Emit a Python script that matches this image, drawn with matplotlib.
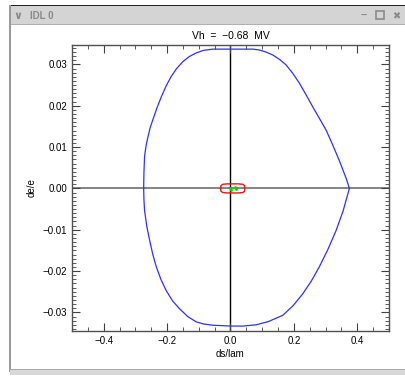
import matplotlib
matplotlib.use("Agg")
import matplotlib.pyplot as plt
from matplotlib.patches import Rectangle

# separatrix, upper and lower halves (ds/lam, de/e)
upper_x = [-0.274, -0.273, -0.271, -0.266, -0.260, -0.253, -0.245, -0.232, -0.218,
           -0.203, -0.187, -0.170, -0.150, -0.130, -0.108, -0.085, -0.056,
           0.002, 0.070, 0.091, 0.112, 0.133, 0.155, 0.175, 0.196, 0.217, 0.238,
           0.259, 0.280, 0.301, 0.318, 0.333, 0.345, 0.354, 0.365, 0.375]
upper_y = [0.0, 0.0040, 0.0078, 0.0105, 0.0126, 0.0148, 0.0166, 0.0195, 0.0222,
           0.0248, 0.0271, 0.0290, 0.0307, 0.0319, 0.0328, 0.0334, 0.0337,
           0.0337, 0.0337, 0.0335, 0.0330, 0.0323, 0.0312, 0.0299, 0.0279, 0.0255, 0.0227,
           0.0198, 0.0170, 0.0142, 0.0113, 0.0086, 0.0064, 0.0046, 0.0024, 0.0]
lower_x = [-0.274, -0.273, -0.271, -0.264, -0.255, -0.245, -0.234, -0.219, -0.203,
           -0.183, -0.161, -0.135, -0.108, -0.085, -0.056,
           0.002, 0.040, 0.081, 0.120, 0.165, 0.197, 0.228, 0.255, 0.280, 0.307,
           0.333, 0.355, 0.375]
lower_y = [0.0, -0.0028, -0.0054, -0.0092, -0.0126, -0.0160, -0.0190, -0.0221, -0.0247,
           -0.0272, -0.0291, -0.0310, -0.0323, -0.0328, -0.0331,
           -0.0333, -0.0333, -0.0330, -0.0322, -0.0307, -0.0284, -0.0255, -0.0224, -0.0190, -0.0148,
           -0.0102, -0.0055, 0.0]

# small bucket (red) and particles (green)
bucket_x = [-0.0315, -0.030, -0.024, -0.010, 0.005, 0.025, 0.039, 0.044, 0.045,
            0.044, 0.039, 0.025, 0.005, -0.010, -0.024, -0.030, -0.0315]
bucket_y = [0.0, 0.0007, 0.0010, 0.0011, 0.0011, 0.0011, 0.0010, 0.0007, 0.0,
            -0.0007, -0.0010, -0.0011, -0.0011, -0.0011, -0.0010, -0.0007, 0.0]
part_x = [-0.001, 0.001, 0.003, 0.014, 0.016, 0.018]
part_y = [0.0002, -0.0003, 0.0001, 0.0003, -0.0002, 0.0001]

xticks = [-0.4, -0.2, 0.0, 0.2, 0.4]
yticks = [-0.03, -0.02, -0.01, 0.0, 0.01, 0.02, 0.03]

plt.rcParams["font.family"] = ["Liberation Sans", "DejaVu Sans"]

W, H = 406, 377
fig = plt.figure(figsize=(W / 100, H / 100), dpi=100)
fig.patch.set_facecolor("white")

# window chrome
def px(x0, y0, w, h, **kw):
    fig.add_artist(Rectangle((x0 / W, 1 - (y0 + h) / H), w / W, h / H,
                             transform=fig.transFigure, **kw))

px(10, 5, 396, 20, facecolor="#d4d4d4", edgecolor="none")
px(10, 5, 396, 1.2, facecolor="#222222", edgecolor="none")
px(10, 24, 396, 1, facecolor="#b0b0b0", edgecolor="none")
px(9, 5, 2, 367, facecolor="#9a9a9a", edgecolor="none")
px(10, 370, 396, 5, facecolor="#d8d8d8", edgecolor="none")
px(10, 369, 396, 1, facecolor="#a8a8a8", edgecolor="none")
fig.text(30 / W, 1 - 16 / H, "IDL 0", fontsize=7, color="#8a8a8a",
         ha="left", va="center", fontweight="bold")
fig.text(18 / W, 1 - 16 / H, "\u2228", fontsize=8, color="#8a8a8a",
         ha="center", va="center", fontweight="bold")
fig.text(364 / W, 1 - 16 / H, "\u2013", fontsize=8, color="#8a8a8a",
         ha="center", va="center", fontweight="bold")
px(376, 11, 8, 8, facecolor="none", edgecolor="#8a8a8a", linewidth=1.2)
fig.text(396 / W, 1 - 16 / H, "\u2716", fontsize=7, color="#8a8a8a",
         ha="center", va="center", family=["DejaVu Sans"])

ax = fig.add_axes([72 / W, 1 - 331 / H, 317 / W, 286 / H])
ax.plot(upper_x, upper_y, color="#3030ff", linewidth=0.9)
ax.plot(lower_x, lower_y, color="#3030ff", linewidth=0.9)
ax.axhline(0, color="#707070", linewidth=1.2, zorder=1)
ax.axvline(0, color="black", linewidth=1.0, zorder=1)
ax.plot(bucket_x, bucket_y, color="#ee1111", linewidth=1.0)
ax.plot(part_x, part_y, ".", color="#00dd00", markersize=2)

ax.set_xlim(-0.5, 0.5)
ax.set_ylim(-0.0345, 0.0347)
ax.set_xticks(xticks)
ax.set_xticklabels(["\u22120.4", "\u22120.2", "0.0", "0.2", "0.4"])
ax.set_yticks(yticks)
ax.set_yticklabels(["\u22120.03", "\u22120.02", "\u22120.01", "0.00", "0.01", "0.02", "0.03"])
ax.set_xticks([i * 0.05 - 0.5 for i in range(21)], minor=True)
ax.set_yticks([i * 0.001 - 0.034 for i in range(69)], minor=True)
ax.tick_params(which="both", direction="in", top=True, right=True, labelsize=7,
               color="#404040")
ax.tick_params(which="major", length=6, width=0.8)
ax.tick_params(which="minor", length=3, width=0.6)
for s in ax.spines.values():
    s.set_color("#505050")
    s.set_linewidth(1.0)

ax.set_title("Vh  =  \u22120.68  MV", fontsize=7.5, pad=4)
ax.set_xlabel("ds/lam", fontsize=7, labelpad=2)
ax.set_ylabel("de/e", fontsize=7, labelpad=4)

fig.savefig("out.png", dpi=100)
